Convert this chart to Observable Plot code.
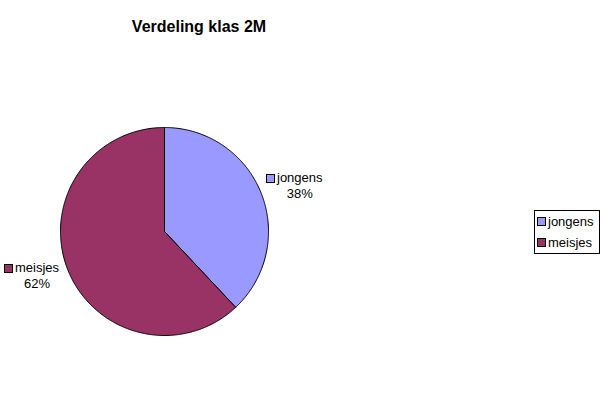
<!DOCTYPE html>
<html>
<head>
<meta charset="utf-8">
<script src="https://cdn.jsdelivr.net/npm/d3@7"></script>
<script src="https://cdn.jsdelivr.net/npm/@observablehq/plot@0.6"></script>
<style>
  body { margin: 0; background: #fff; font-family: "Liberation Sans", Arial, sans-serif; }
  #wrap { position: relative; width: 605px; height: 408px; overflow: hidden; }
  #wrap svg { position: absolute; left: 0; top: 0; }
  .title { position: absolute; left: 0; width: 398px; top: 18px; text-align: center; font-weight: bold; font-size: 16px; color: #000; }
  .lab { position: absolute; font-size: 13px; color: #000; line-height: 16px; }
  .lab .txt { display: inline-block; text-align: center; vertical-align: top; }
  .lab .sw { vertical-align: top; margin-top: 4px; }
  .sw { display: inline-block; width: 7px; height: 7px; border: 1px solid #000; vertical-align: 0px; margin-right: 2px; }
  .legend { position: absolute; left: 534px; top: 210px; width: 64px; height: 42px; border: 1px solid #000; background: #fff; font-size: 13px; }
  .legend div { position: absolute; left: 2px; line-height: 16px; white-space: nowrap; }
</style>
</head>
<body>
<div id="wrap"></div>
<script>
const categories = ["jongens", "meisjes"];
const values = [38, 62];
const colors = ["#9999FF", "#993366"];
const title = "Verdeling klas 2M";

// Slice angles through d3.pie (clockwise from 12 o'clock, no sorting)
const arcs = d3.pie().sort(null).value(d => d.value)(categories.map((c, i) => ({name: c, value: values[i]})));

// Build slice outlines in unit coordinates
const pts = [];
arcs.forEach(a => {
  const n = Math.max(2, Math.ceil((a.endAngle - a.startAngle) / 0.01));
  pts.push({name: a.data.name, x: 0, y: 0});
  for (let k = 0; k <= n; k++) {
    const t = a.startAngle + (a.endAngle - a.startAngle) * k / n;
    pts.push({name: a.data.name, x: Math.sin(t), y: Math.cos(t)});
  }
  pts.push({name: a.data.name, x: 0, y: 0});
});

const plot = Plot.plot({
  width: 605,
  height: 408,
  marginLeft: 60,
  marginRight: 337,
  marginTop: 127,
  marginBottom: 73,
  x: {domain: [-1, 1], axis: null},
  y: {domain: [-1, 1], axis: null},
  color: {domain: categories, range: colors},
  marks: [
    Plot.line(pts, {x: "x", y: "y", z: "name", fill: "name", stroke: "#000", strokeWidth: 1, curve: "linear-closed"})
  ]
});

const wrap = document.getElementById("wrap");
wrap.appendChild(plot);

const t = document.createElement("div");
t.className = "title";
t.textContent = title;
wrap.appendChild(t);

// Data labels
const labelPos = [
  {left: 266, top: 170},
  {left: 4, top: 260}
];
categories.forEach((c, i) => {
  const d = document.createElement("div");
  d.className = "lab";
  d.style.left = labelPos[i].left + "px";
  d.style.top = labelPos[i].top + "px";
  d.innerHTML = `<span class="sw" style="background:${colors[i]}"></span><span class="txt">${c}<br>${values[i]}%</span>`;
  wrap.appendChild(d);
});

// Legend
const lg = document.createElement("div");
lg.className = "legend";
categories.forEach((c, i) => {
  const r = document.createElement("div");
  r.style.top = (3 + i * 21) + "px";
  r.innerHTML = `<span class="sw" style="background:${colors[i]}"></span>${c}`;
  lg.appendChild(r);
});
wrap.appendChild(lg);
</script>
</body>
</html>
